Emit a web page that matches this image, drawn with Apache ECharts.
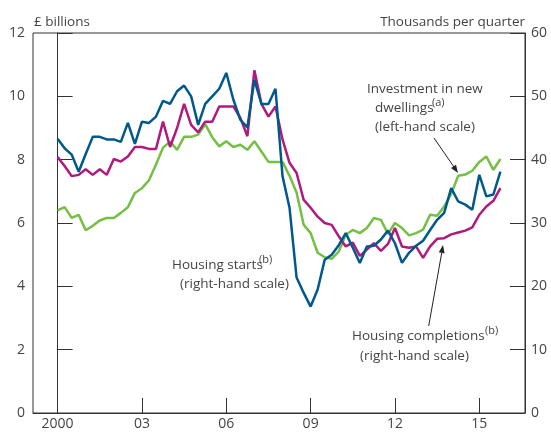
<!DOCTYPE html>
<html>
<head>
<meta charset="utf-8">
<script src="https://cdn.jsdelivr.net/npm/echarts@6/dist/echarts.min.js"></script>
<style>
  html, body { margin: 0; padding: 0; background: #fff; }
  #chart { width: 551px; height: 432px; }
</style>
</head>
<body>
<div id="chart"></div>
<script>
// quarterly data, 2000 Q1 .. 2015 Q4 (index 0 = 2000 Q1)
var investment = [6.40, 6.50, 6.16, 6.26, 5.77, 5.91, 6.08, 6.16, 6.16, 6.32, 6.50, 6.95, 7.10, 7.35, 7.85, 8.38,
  8.57, 8.31, 8.72, 8.72, 8.79, 9.12, 8.71, 8.42, 8.58, 8.40, 8.47, 8.31, 8.58, 8.26, 7.93, 7.93,
  7.93, 7.49, 6.96, 5.95, 5.68, 5.06, 4.92, 4.87, 5.10, 5.63, 5.78, 5.68, 5.84, 6.16, 6.10, 5.66,
  6.00, 5.84, 5.61, 5.68, 5.79, 6.26, 6.23, 6.52, 6.92, 7.49, 7.53, 7.65, 7.93, 8.10, 7.68, 8.02]
var starts = [43.3, 41.8, 40.8, 38.1, 40.9, 43.6, 43.6, 43.2, 43.2, 42.8, 45.8, 42.5, 46.0, 45.8, 46.8, 49.3,
  48.8, 50.8, 51.7, 50.0, 45.5, 48.8, 50.0, 51.2, 53.7, 49.5, 46.3, 45.1, 52.6, 48.8, 48.8, 51.2,
  37.4, 32.4, 21.4, 19.0, 16.8, 19.5, 24.2, 25.0, 26.5, 28.4, 26.1, 23.7, 26.3, 26.4, 27.4, 28.8,
  26.8, 23.7, 25.3, 26.4, 27.2, 28.9, 30.5, 31.6, 35.5, 33.4, 32.9, 32.1, 37.6, 34.2, 34.5, 38.1]
var completions = [40.4, 39.0, 37.4, 37.6, 38.5, 37.6, 38.5, 37.6, 40.1, 39.7, 40.5, 42.0, 42.0, 41.7, 41.7, 46.0,
  42.0, 45.0, 48.8, 45.5, 44.3, 46.0, 46.0, 48.4, 48.4, 48.4, 46.6, 43.7, 54.1, 48.8, 46.8, 48.4,
  43.2, 39.5, 37.9, 33.7, 32.4, 31.0, 30.0, 29.7, 27.9, 26.3, 26.9, 24.8, 25.8, 26.8, 25.6, 26.7,
  29.2, 26.3, 26.1, 26.3, 24.5, 26.3, 27.5, 27.6, 28.2, 28.5, 28.8, 29.3, 31.3, 32.6, 33.5, 35.5]
var xTickValues = [0, 12, 24, 36, 48, 60]
var xTickLabels = ['2000', '03', '06', '09', '12', '15']

var TXT = '#444'
var FONT = 'Open Sans'

function pairs(arr) {
  return arr.map(function (v, i) { return [i, v] })
}

function label(text, x, y, size, align) {
  return {
    type: 'text', x: x, y: y, silent: true,
    style: { text: text, font: (size || 13.5) + 'px "' + FONT + '"', fill: TXT, align: align || 'left', verticalAlign: 'middle' }
  }
}

var chart = echarts.init(document.getElementById('chart'))
var option = {
  animation: false,
  backgroundColor: '#fff',
  grid: { left: 33, right: 26, top: 33, bottom: 19, show: true, borderColor: '#333', borderWidth: 1 },
  xAxis: {
    type: 'value', min: -3.5, max: 66.5,
    axisLine: { show: true, lineStyle: { color: '#333' } },
    axisTick: { show: true, inside: true, length: 15, customValues: xTickValues, lineStyle: { color: '#333' } },
    axisLabel: {
      customValues: xTickValues, color: TXT, fontFamily: FONT, fontSize: 14, margin: 4,
      formatter: function (v) { return xTickLabels[xTickValues.indexOf(v)] }
    },
    splitLine: { show: false }
  },
  yAxis: [
    {
      type: 'value', min: 0, max: 12, interval: 2, position: 'left',
      axisLine: { show: true, lineStyle: { color: '#333' } },
      axisTick: { show: true, inside: true, length: 15, lineStyle: { color: '#333' } },
      axisLabel: { color: TXT, fontFamily: FONT, fontSize: 14, margin: 8 },
      splitLine: { show: false }
    },
    {
      type: 'value', min: 0, max: 60, interval: 10, position: 'right',
      axisLine: { show: true, lineStyle: { color: '#333' } },
      axisTick: { show: true, inside: true, length: 15, lineStyle: { color: '#333' } },
      axisLabel: { color: TXT, fontFamily: FONT, fontSize: 14, margin: 6 },
      splitLine: { show: false }
    }
  ],
  series: [
    {
      name: 'Investment in new dwellings', type: 'line', yAxisIndex: 0, data: pairs(investment),
      symbol: 'none', lineStyle: { color: '#74bf44', width: 2.5 }, z: 2
    },
    {
      name: 'Housing completions', type: 'line', yAxisIndex: 1, data: pairs(completions),
      symbol: 'none', lineStyle: { color: '#b0197e', width: 2.5 }, z: 3
    },
    {
      name: 'Housing starts', type: 'line', yAxisIndex: 1, data: pairs(starts),
      symbol: 'none', lineStyle: { color: '#00598c', width: 2.5 }, z: 4
    }
  ],
  graphic: [
    label('£ billions', 34, 22),
    label('Thousands per quarter', 525, 22, 13.5, 'right'),
    label('Investment in new', 367, 89),
    label('dwellings', 375, 108),
    label('(a)', 432, 103, 11),
    label('(left-hand scale)', 375, 127),
    label('Housing starts', 172, 265),
    label('(b)', 259, 260, 11),
    label('(right-hand scale)', 180, 284),
    label('Housing completions', 352, 336),
    label('(b)', 485, 331, 11),
    label('(right-hand scale)', 360, 356),
    { type: 'line', silent: true, shape: { x1: 434, y1: 138, x2: 454, y2: 167 }, style: { stroke: '#222', lineWidth: 1 } },
    { type: 'polygon', silent: true, shape: { points: [[458, 173], [451, 168.1], [456, 164.7]] }, style: { fill: '#222' } },
    { type: 'line', silent: true, shape: { x1: 428.7, y1: 326, x2: 441.7, y2: 253 }, style: { stroke: '#222', lineWidth: 1 } },
    { type: 'polygon', silent: true, shape: { points: [[443, 245], [444.6, 253.4], [438.8, 252.3]] }, style: { fill: '#222' } }
  ]
}
chart.setOption(option)
window.addEventListener('resize', function () {
  chart.resize()
})
</script>
</body>
</html>
